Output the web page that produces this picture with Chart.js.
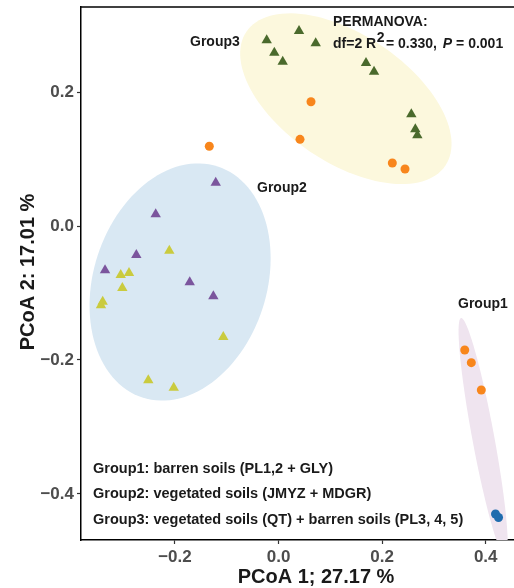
<!DOCTYPE html>
<html>
<head>
<meta charset="utf-8">
<script src="https://cdn.jsdelivr.net/npm/chart.js@4"></script>
<style>
  html, body { margin: 0; padding: 0; background: #fff; }
  #wrap { width: 514px; height: 588px; }
</style>
</head>
<body>
<div id="wrap"><canvas id="pcoa" width="514" height="588"></canvas></div>
<script>
// PCoA scores
const qtX = [-0.0228, 0.0396, -0.0081, 0.0081, 0.0718, 0.1689, 0.1844, 0.2564, 0.2641, 0.2680];
const qtY = [0.2772, 0.2910, 0.2587, 0.2452, 0.2727, 0.2433, 0.2303, 0.1667, 0.1443, 0.1354];

const jmyzX = [-0.1212, -0.2371, -0.2745, -0.3349, -0.1714, -0.1258];
const jmyzY = [0.0646, 0.0175, -0.0433, -0.0662, -0.0841, -0.1050];

const mdgrX = [-0.2108, -0.3046, -0.2886, -0.3015, -0.3394, -0.3427, -0.1066, -0.2514, -0.2023];
const mdgrY = [-0.0368, -0.0731, -0.0701, -0.0925, -0.1129, -0.1184, -0.1657, -0.2303, -0.2413];

const plX = [0.0627, 0.0415, -0.1336, 0.2197, 0.2442, 0.3595, 0.3722, 0.3915];
const plY = [0.1855, 0.1294, 0.1190, 0.0940, 0.0851, -0.1851, -0.2040, -0.2448];

const glyX = [0.4189, 0.4247];
const glyY = [-0.4299, -0.4351];

const xTicks = [-0.2, 0, 0.2, 0.4];
const yTicks = [-0.4, -0.2, 0, 0.2];

// group ellipses: centre and two conjugate semi-axes, in PCoA units
const ellipseCenter = [[0.130, 0.190], [-0.190, -0.0836], [0.395, -0.315]];
const ellipseU = [[0.192, -0.100], [-0.0726, -0.1725], [0.0426, -0.1776]];
const ellipseV = [[-0.069, -0.079], [-0.159, 0.040], [-0.0209, -0.0030]];
const ellipseFill = ['#fcf8dd', '#d9e8f3', '#efe4ef'];

const FONT = "'Liberation Sans', Arial, sans-serif";

function pts(xs, ys) {
    return xs.map((v, i) => ({ x: v, y: ys[i] }));
}

function fmt(v) {
    return (v < 0 ? '\u2212' : '') + Math.abs(v).toFixed(1);
}

// keep the plot box where the original has it
function noPad(s) {
    s.paddingTop = 0;
    s.paddingBottom = 0;
    s.paddingLeft = 0;
    s.paddingRight = 0;
}

const ellipsePlugin = {
    id: 'ellipses',
    beforeDatasetsDraw(chart) {
        const { ctx, chartArea, scales: { x, y } } = chart;
        ctx.save();
        ctx.beginPath();
        ctx.rect(chartArea.left, chartArea.top, chartArea.right - chartArea.left, chartArea.bottom - chartArea.top);
        ctx.clip();
        ellipseCenter.forEach((c, i) => {
            ctx.beginPath();
            for (let k = 0; k <= 120; k++) {
                const t = k / 120 * Math.PI * 2;
                const dx = c[0] + Math.cos(t) * ellipseU[i][0] + Math.sin(t) * ellipseV[i][0];
                const dy = c[1] + Math.cos(t) * ellipseU[i][1] + Math.sin(t) * ellipseV[i][1];
                const px = x.getPixelForValue(dx);
                const py = y.getPixelForValue(dy);
                if (k === 0) ctx.moveTo(px, py); else ctx.lineTo(px, py);
            }
            ctx.closePath();
            ctx.fillStyle = ellipseFill[i];
            ctx.fill();
        });
        ctx.restore();
    }
};

const textPlugin = {
    id: 'texts',
    afterDraw(chart) {
        const { ctx, chartArea } = chart;
        ctx.save();

        // top frame line
        ctx.strokeStyle = '#000';
        ctx.lineWidth = 1.5;
        ctx.beginPath();
        ctx.moveTo(chartArea.left, chartArea.top);
        ctx.lineTo(chart.width, chartArea.top);
        ctx.stroke();

        ctx.fillStyle = '#1a1a1a';
        ctx.textBaseline = 'middle';
        ctx.textAlign = 'left';
        ctx.font = 'bold 14px ' + FONT;
        ctx.fillText('Group3', 190, 42);
        ctx.fillText('Group2', 257, 188);
        ctx.fillText('Group1', 458, 304);

        // PERMANOVA note
        ctx.fillText('PERMANOVA:', 333, 22);
        let px = 333;
        const py = 44;
        ctx.fillText('df=2 R', px, py);
        px += ctx.measureText('df=2 R').width + 0.5;
        ctx.fillText('2', px, py - 6);
        px += ctx.measureText('2').width + 1.5;
        ctx.fillText('= 0.330,', px, py);
        px += ctx.measureText('= 0.330, ').width + 2;
        ctx.font = 'italic bold 14px ' + FONT;
        ctx.fillText('P', px, py);
        px += ctx.measureText('P').width;
        ctx.font = 'bold 14px ' + FONT;
        ctx.fillText(' = 0.001', px, py);

        // group legend
        ctx.font = 'bold 14.5px ' + FONT;
        ctx.fillText('Group1: barren soils (PL1,2 + GLY)', 93, 469);
        ctx.fillText('Group2: vegetated soils (JMYZ + MDGR)', 93, 494);
        ctx.fillText('Group3: vegetated soils (QT) + barren soils (PL3, 4, 5)', 93, 520);

        // axis titles
        ctx.font = 'bold 20px ' + FONT;
        ctx.textAlign = 'center';
        ctx.fillText('PCoA 1; 27.17 %', 316, 577);
        ctx.translate(28, 272);
        ctx.rotate(-Math.PI / 2);
        ctx.fillText('PCoA 2: 17.01 %', 0, 0);

        ctx.restore();
    }
};

function tri(color) {
    return {
        pointStyle: 'triangle',
        pointRadius: 6,
        pointBackgroundColor: color,
        pointBorderColor: color,
        pointBorderWidth: 0
    };
}

function dot(color) {
    return {
        pointStyle: 'circle',
        pointRadius: 4.5,
        pointBackgroundColor: color,
        pointBorderColor: color,
        pointBorderWidth: 0
    };
}

const ctx = document.getElementById('pcoa').getContext('2d');

new Chart(ctx, {
    type: 'scatter',
    data: {
        datasets: [
            Object.assign({ label: 'QT', data: pts(qtX, qtY) }, tri('#4a6a2c')),
            Object.assign({ label: 'JMYZ', data: pts(jmyzX, jmyzY) }, tri('#7b559d')),
            Object.assign({ label: 'MDGR', data: pts(mdgrX, mdgrY) }, tri('#cacb3e')),
            Object.assign({ label: 'PL', data: pts(plX, plY) }, dot('#f8861c')),
            Object.assign({ label: 'GLY', data: pts(glyX, glyY) }, dot('#1f6cae'))
        ]
    },
    options: {
        responsive: false,
        animation: false,
        layout: { autoPadding: false, padding: { top: 7, left: 0, right: 0, bottom: 0 } },
        plugins: {
            legend: { display: false },
            tooltip: { enabled: false }
        },
        scales: {
            x: {
                type: 'linear',
                min: -0.3813,
                max: 0.4546,
                afterBuildTicks: s => { s.ticks = xTicks.map(v => ({ value: v })); },
                afterFit: s => { s.height = 48; noPad(s); },
                grid: { display: true, drawOnChartArea: false, drawTicks: true, tickLength: 4, tickWidth: 1.2, tickColor: '#333' },
                border: { display: true, color: '#000', width: 1.5 },
                ticks: {
                    autoSkip: false,
                    maxRotation: 0,
                    padding: 3,
                    color: '#4d4d4d',
                    font: { family: FONT, size: 17, weight: 'bold' },
                    callback: v => fmt(v)
                }
            },
            y: {
                type: 'linear',
                min: -0.4687,
                max: 0.3269,
                afterBuildTicks: s => { s.ticks = yTicks.map(v => ({ value: v })); },
                afterFit: s => { s.width = 81; noPad(s); },
                grid: { display: true, drawOnChartArea: false, drawTicks: true, tickLength: 4, tickWidth: 1.2, tickColor: '#333' },
                border: { display: true, color: '#000', width: 1.5 },
                ticks: {
                    autoSkip: false,
                    padding: 3,
                    color: '#4d4d4d',
                    font: { family: FONT, size: 17, weight: 'bold' },
                    callback: v => fmt(v)
                }
            }
        }
    },
    plugins: [ellipsePlugin, textPlugin]
});
</script>
</body>
</html>
